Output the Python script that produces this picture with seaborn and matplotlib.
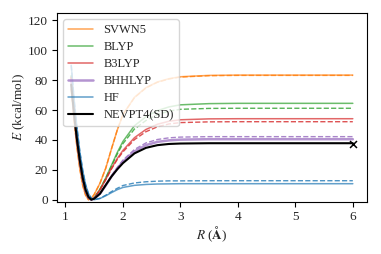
import pandas as pd
import matplotlib
matplotlib.use("Agg")
import matplotlib.pyplot as plt
import seaborn as sns

# Bond distances (Angstrom) and relative energies (kcal/mol)
R = [1.1, 1.15, 1.2, 1.25, 1.3, 1.35, 1.4, 1.45, 1.5, 1.6, 1.7, 1.8, 1.9, 2.0,
     2.2, 2.4, 2.6, 2.8, 3.0, 3.5, 4.0, 5.0, 6.0]

svwn5 = [74, 53, 35, 20.5, 9.5, 3, 0, 0.8, 3.5, 11, 21, 34, 46.5, 57,
         68.5, 75, 78.8, 81, 82.3, 83.2, 83.4, 83.4, 83.4]
svwn5_d = [74, 53, 35, 20.5, 9.5, 3, 0, 0.8, 3.5, 11, 21, 34, 46.5, 57,
           68.3, 74.8, 78.6, 80.8, 82.1, 83.0, 83.2, 83.2, 83.2]

blyp = [83, 61, 42, 26, 14, 5.5, 1.2, 0, 1.2, 7, 14.5, 23, 31.5, 39,
        49.5, 55.5, 59.6, 62.1, 63.5, 64.3, 64.5, 64.5, 64.5]
blyp_d = [83, 61, 42, 26, 14, 5.5, 1.2, 0, 1.2, 7, 14.3, 22.5, 30.5, 37.5,
          47.3, 53, 57, 59.3, 60.5, 61.1, 61.2, 61.2, 61.2]

b3lyp = [82, 60, 41, 25.5, 13.5, 5.3, 1.1, 0, 1.1, 6.5, 13.5, 21, 27.5, 33,
         41.5, 47, 50.5, 52.5, 53.5, 54.1, 54.2, 54.2, 54.2]
b3lyp_d = [82, 60, 41, 25.5, 13.5, 5.3, 1.1, 0, 1.1, 6.5, 13.3, 20.5, 26.8, 32,
           40.2, 45.5, 48.8, 50.7, 51.6, 52.1, 52.2, 52.2, 52.2]

bhhlyp = [80, 59, 40.5, 25.5, 14, 6, 1.5, 0, 0.8, 4, 9.5, 15.5, 20.8, 25.5,
          32.3, 36.5, 38.7, 39.7, 40.2, 40.5, 40.5, 40.5, 40.5]
bhhlyp_d = [80, 59, 40.5, 25.5, 14, 6, 1.5, 0, 0.8, 4, 9.7, 16, 21.5, 26.5,
            33.6, 38, 40.3, 41.4, 41.9, 42.2, 42.2, 42.2, 42.2]

hf = [90, 67, 48, 32, 19.5, 10, 4, 1, 0, 0.8, 2.6, 4.7, 6.7, 8.2,
      9.6, 10.2, 10.5, 10.6, 10.7, 10.7, 10.7, 10.7, 10.7]
hf_d = [90, 67, 48, 32, 19.5, 10, 4, 1, 0, 0.9, 3, 5.4, 7.6, 9.5,
        11.2, 12, 12.4, 12.6, 12.6, 12.7, 12.7, 12.7, 12.7]

nevpt4 = [77, 57, 40, 26, 14.5, 6.5, 1.8, 0, 0.7, 4, 9.8, 15.5, 20.3, 24.5,
          31, 34.7, 36.5, 37.3, 37.6, 37.8, 37.8, 37.8, 37.8]

# reference point at the dissociation limit
ref_R = [6.0]
ref_E = [37.3]

methods = ['SVWN5', 'BLYP', 'B3LYP', 'BHHLYP', 'HF']
solid = [svwn5, blyp, b3lyp, bhhlyp, hf]
dashed = [svwn5_d, blyp_d, b3lyp_d, bhhlyp_d, hf_d]
colors = ['#ff7f0e', '#2ca02c', '#d62728', '#9467bd', '#1f77b4']
widths = [1.1, 1.1, 1.1, 1.8, 1.1]

sns.set_style("ticks")
plt.rcParams['font.family'] = 'serif'
plt.rcParams['font.serif'] = ['Liberation Serif', 'DejaVu Serif']
plt.rcParams['mathtext.fontset'] = 'stix'
plt.rcParams['axes.edgecolor'] = 'black'

fig, ax = plt.subplots(figsize=(3.81, 2.54), dpi=100)

for name, ys, yd, c, w in zip(methods, solid, dashed, colors, widths):
    sns.lineplot(x=R, y=ys, color=c, lw=w, alpha=0.7, label=name, ax=ax)
    sns.lineplot(x=R, y=yd, color=c, lw=1.0, alpha=0.8, ls='--', ax=ax)

sns.lineplot(x=R, y=nevpt4, color='black', lw=1.5, label='NEVPT4(SD)', ax=ax)
sns.scatterplot(x=ref_R, y=ref_E, color='black', marker='x', s=25,
                linewidth=1.1, ax=ax, zorder=5)

ax.set_xlim(0.855, 6.245)
ax.set_ylim(-1.5, 125)
ax.set_yticks([0, 20, 40, 60, 80, 100, 120])
ax.set_xticks([1, 2, 3, 4, 5, 6])
ax.tick_params(labelsize=9.5, length=3.5, width=0.8, color='black', pad=3)
ax.set_xlabel(r'$R$ ($\mathbf{\AA}$)', fontsize=9.5, labelpad=1)
ax.set_ylabel(r'$E$ (kcal/mol)', fontsize=9.5, labelpad=1)

leg = ax.legend(loc='upper left', fontsize=9, framealpha=0.8,
                handlelength=2.0, labelspacing=0.4)

fig.subplots_adjust(left=0.15, right=0.963, bottom=0.205, top=0.949)
plt.savefig('out.png', dpi=100)
